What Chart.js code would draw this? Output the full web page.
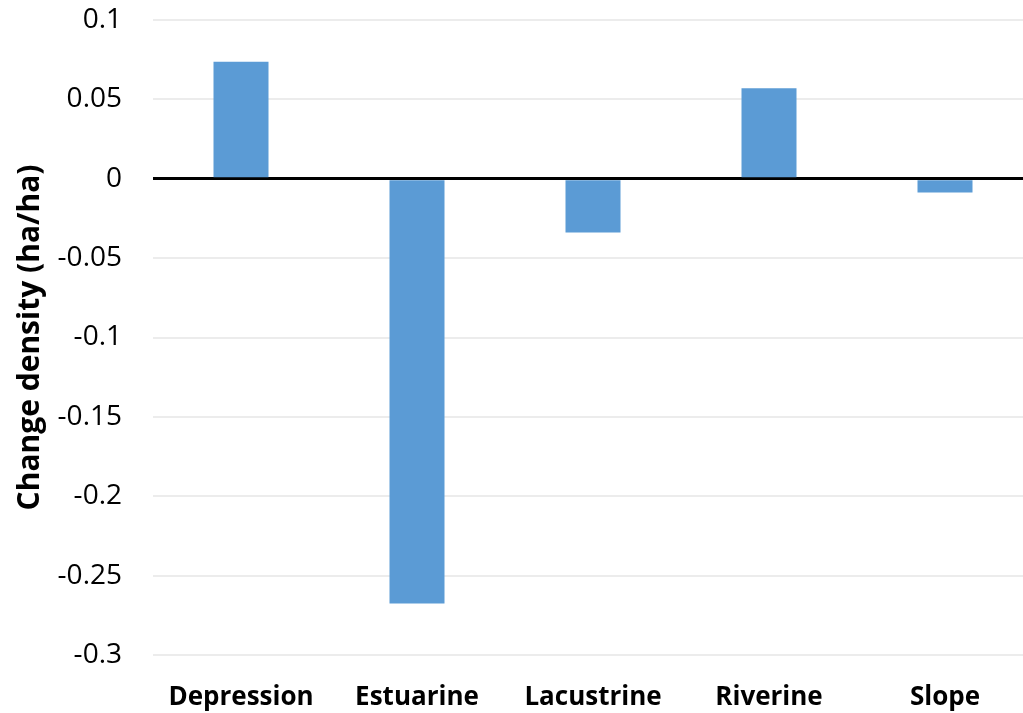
<!DOCTYPE html>
<html>
<head>
<meta charset="utf-8">
<script src="https://cdn.jsdelivr.net/npm/chart.js@4"></script>
<style>
    html, body { margin: 0; padding: 0; background: #fff; overflow: hidden; }
    #wrap { width: 1033px; height: 713px; }
</style>
</head>
<body>
<div id="wrap"><canvas id="chart"></canvas></div>
<script>
    // Data dari grafik
    const categories = ['Depression', 'Estuarine', 'Lacustrine', 'Riverine', 'Slope'];
    const changeDensity = [0.0737, -0.2675, -0.0339, 0.057, -0.0087];
    const yMin = -0.3;
    const yMax = 0.1;
    const yStep = 0.05;

    const FONT = '"Open Sans", sans-serif';
    const BAR_COLOR = '#5B9BD5';

    const ctx = document.getElementById('chart').getContext('2d');
    new Chart(ctx, {
        type: 'bar',
        data: {
            labels: categories,
            datasets: [{
                data: changeDensity,
                backgroundColor: BAR_COLOR,
                borderWidth: 0,
                categoryPercentage: 1,
                barPercentage: 0.3125
            }]
        },
        options: {
            responsive: true,
            maintainAspectRatio: false,
            animation: false,
            layout: { padding: { top: 20, right: 0, bottom: 0, left: 0 } },
            plugins: {
                legend: { display: false },
                tooltip: { enabled: false }
            },
            scales: {
                x: {
                    afterFit: axis => { axis.height = 58; },
                    grid: { display: false, drawTicks: false },
                    border: { display: false },
                    ticks: {
                        color: '#000',
                        padding: 27,
                        font: { family: FONT, size: 26, weight: 'bold' }
                    }
                },
                y: {
                    min: yMin,
                    max: yMax,
                    afterFit: axis => {
                        axis.width = 153;
                        axis.paddingTop = 0;
                        axis.paddingBottom = 0;
                    },
                    grid: {
                        drawTicks: false,
                        color: ctx => Math.abs(ctx.tick.value) < 1e-9 ? '#000' : '#ececec',
                        lineWidth: ctx => Math.abs(ctx.tick.value) < 1e-9 ? 3 : 2
                    },
                    border: { display: false },
                    ticks: {
                        stepSize: yStep,
                        color: '#000',
                        padding: 31,
                        font: { family: FONT, size: 28 },
                        callback: v => {
                            const r = Math.round(v * 100) / 100;
                            return r === 0 ? '0' : String(r);
                        }
                    },
                    title: {
                        display: true,
                        text: 'Change density (ha/ha)',
                        color: '#000',
                        padding: { top: 12, bottom: 0 },
                        font: { family: FONT, size: 30, weight: 'bold' }
                    }
                }
            }
        }
    });
</script>
</body>
</html>
